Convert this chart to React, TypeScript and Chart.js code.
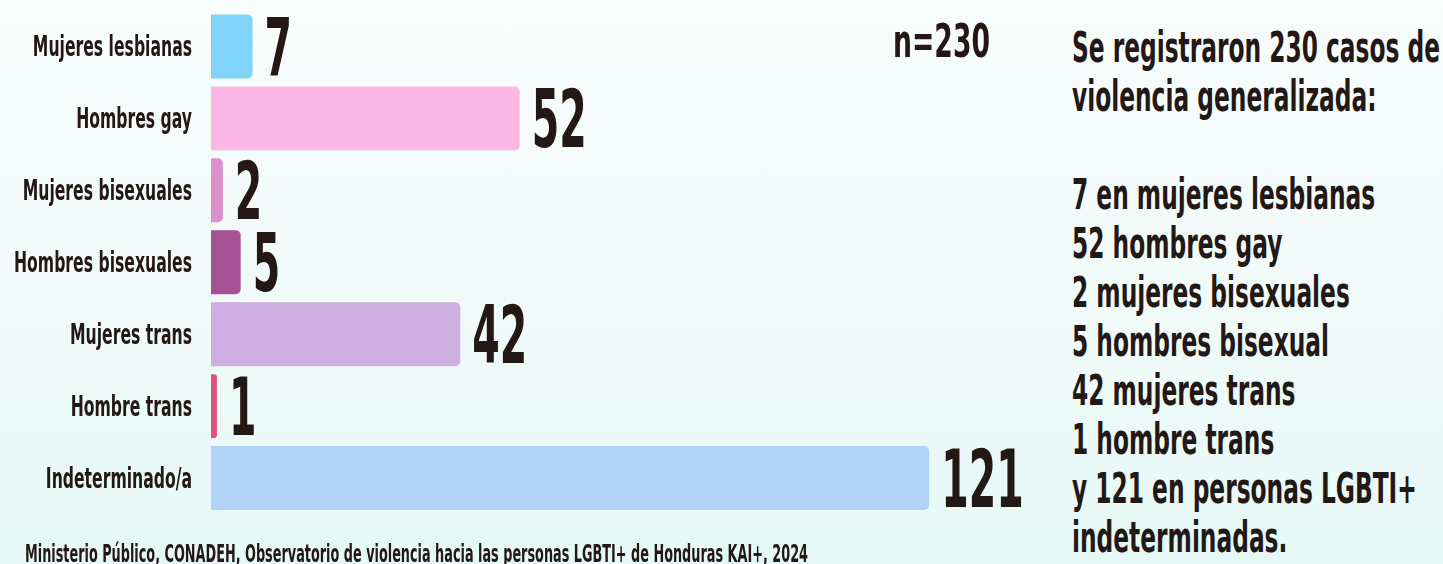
import React, { useEffect, useLayoutEffect, useRef } from "react";
import { Chart, registerables } from "chart.js";

Chart.register(...registerables);

const categories = [
  "Mujeres lesbianas",
  "Hombres gay",
  "Mujeres bisexuales",
  "Hombres bisexuales",
  "Mujeres trans",
  "Hombre trans",
  "Indeterminado/a",
];
const values = [7, 52, 2, 5, 42, 1, 121];
const barColors = ["#80d4fa", "#fcb8e4", "#dc90cc", "#a65193", "#cfaee2", "#e0527f", "#b2d3f6"];
const totalLabel = "n=230";
const summaryLines = [
  "Se registraron 230 casos de",
  "violencia generalizada:",
  "",
  "7 en mujeres lesbianas",
  "52 hombres gay",
  "2 mujeres bisexuales",
  "5 hombres bisexual",
  "42 mujeres trans",
  "1 hombre trans",
  "y 121 en personas LGBTI+",
  "indeterminadas.",
];
const sourceNote =
  "Ministerio Público, CONADEH, Observatorio de violencia hacia las personas LGBTI+ de Honduras KAI+, 2024";

const FONT = '"Liberation Sans Narrow", "DejaVu Sans Condensed", "Arial Narrow", sans-serif';
const INK = "#231815";

const labelPlugin = {
  id: "condensedLabels",
  afterDatasetsDraw(chart: any) {
    const ctx: CanvasRenderingContext2D = chart.ctx;
    const yScale = chart.scales.y;
    const meta = chart.getDatasetMeta(0);
    ctx.save();
    ctx.fillStyle = INK;
    ctx.textBaseline = "alphabetic";

    // category labels
    ctx.font = `bold 29px ${FONT}`;
    const refW = ctx.measureText("Hombres bisexuales").width;
    const sx = 178 / refW;
    categories.forEach((c, i) => {
      const y = yScale.getPixelForValue(i);
      ctx.save();
      ctx.translate(yScale.right - 19, y + 10);
      ctx.scale(sx, 1);
      ctx.textAlign = "right";
      ctx.fillText(c, 0, 0);
      ctx.restore();
    });

    // value labels
    ctx.font = `bold 81px ${FONT}`;
    const vsx = 55 / ctx.measureText("52").width;
    meta.data.forEach((bar: any, i: number) => {
      ctx.save();
      ctx.translate(bar.x + 12, bar.y + 29);
      ctx.scale(vsx, 1);
      ctx.textAlign = "left";
      ctx.fillText(String(values[i]), 0, 0);
      ctx.restore();
    });
    ctx.restore();
  },
};

function Fitted(props: {
  lines: string[];
  targetWidth: number;
  refIndex: number;
  left: number;
  top: number;
  fontSize: number;
  lineHeight: number;
}) {
  const { lines, targetWidth, refIndex, left, top, fontSize, lineHeight } = props;
  const boxRef = useRef<HTMLDivElement>(null);
  const lineRef = useRef<HTMLSpanElement>(null);
  useLayoutEffect(() => {
    const el = boxRef.current;
    const r = lineRef.current;
    if (!el || !r) return;
    el.style.transform = "none";
    const w = r.getBoundingClientRect().width;
    if (w > 0) el.style.transform = `scaleX(${targetWidth / w})`;
  }, [targetWidth]);
  return (
    <div
      ref={boxRef}
      style={{
        position: "absolute",
        left,
        top,
        transformOrigin: "left top",
        whiteSpace: "pre",
        fontFamily: FONT,
        fontWeight: "bold",
        fontSize,
        lineHeight: `${lineHeight}px`,
        color: INK,
      }}
    >
      {lines.map((l, i) => (
        <div key={i} style={{ height: lineHeight }}>
          <span ref={i === refIndex ? lineRef : undefined}>{l || "\u00a0"}</span>
        </div>
      ))}
    </div>
  );
}

export default function App() {
  const canvasRef = useRef<HTMLCanvasElement>(null);

  useEffect(() => {
    if (!canvasRef.current) return;
    const chart = new Chart(canvasRef.current, {
      type: "bar",
      data: {
        labels: categories,
        datasets: [
          {
            data: values,
            backgroundColor: barColors,
            borderRadius: 5,
            borderSkipped: "start",
            barPercentage: 0.889,
            categoryPercentage: 1,
          },
        ],
      },
      options: {
        indexAxis: "y",
        responsive: true,
        maintainAspectRatio: false,
        animation: false,
        layout: { padding: { top: 10.5, bottom: 50, right: 8, left: 0 } },
        plugins: { legend: { display: false }, tooltip: { enabled: false } },
        scales: {
          x: { display: false, min: 0, max: 140 },
          y: {
            ticks: { display: false },
            grid: { display: false },
            border: { display: false },
            afterFit: (s: any) => {
              s.width = 211;
            },
          },
        },
      },
      plugins: [labelPlugin],
    } as any);
    return () => chart.destroy();
  }, []);

  return (
    <div
      style={{
        position: "absolute",
        left: 0,
        top: 0,
        width: 1443,
        height: 564,
        overflow: "hidden",
        background: "linear-gradient(to bottom, #f8fcfc 0%, #f2fbfa 45%, #e6f9f6 100%)",
      }}
    >
      <div style={{ position: "absolute", left: 0, top: 0, width: 1050, height: 564 }}>
        <canvas ref={canvasRef} />
      </div>
      <Fitted lines={[totalLabel]} targetWidth={97} refIndex={0} left={893} top={18} fontSize={46} lineHeight={46} />
      <Fitted lines={summaryLines} targetWidth={368} refIndex={0} left={1072} top={23} fontSize={42} lineHeight={49} />
      <Fitted lines={[sourceNote]} targetWidth={783} refIndex={0} left={25} top={541} fontSize={25} lineHeight={25} />
    </div>
  );
}
